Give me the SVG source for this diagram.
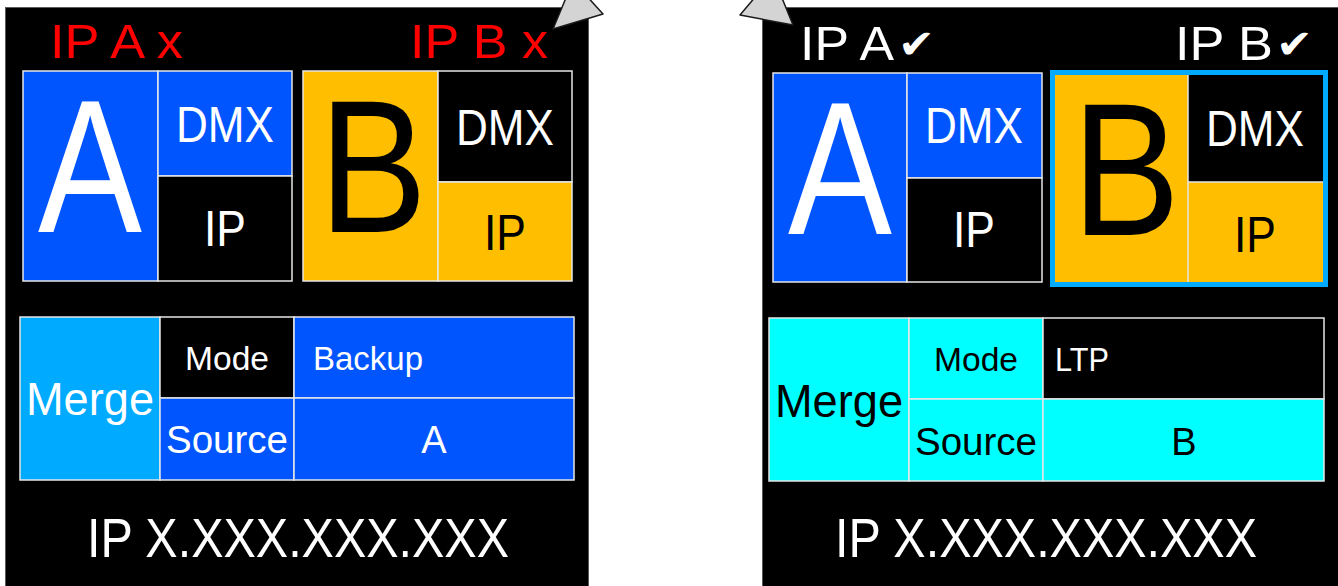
<svg xmlns="http://www.w3.org/2000/svg" width="1338" height="586" viewBox="0 0 1338 586">
  <style>
    text { font-family: "Liberation Sans", Arial, Helvetica, sans-serif; }
    .panel { fill: #000; stroke: #5a5a5a; stroke-width: 1; }
    .cell { stroke: #e6e6e6; stroke-width: 1.5; }
    .blue { fill: #0055ff; }
    .amber { fill: #ffbf00; }
    .sky { fill: #00aaff; }
    .cyan { fill: #00ffff; }
    .dark { fill: #000; }
    .w { fill: #fff; }
    .k { fill: #000; }
    .red { fill: #ff0000; }
    .mid { text-anchor: middle; }
    .head { font-size: 48px; }
    .big { font-size: 190px; }
    .lbl { font-size: 50px; }
    .sm { font-size: 34px; }
    .md { font-size: 38px; }
    .mg { font-size: 46px; }
    .ip { font-size: 56px; }
    .tick { font-family: "DejaVu Sans", sans-serif; font-size: 40px; fill: #fff; }
    .arrowhead { fill: #d4d4d4; stroke: #1a1a1a; stroke-width: 1.5; stroke-linejoin: round; }
  </style>

  <rect width="1338" height="586" fill="#fff"/>

  <!-- left screen: both inputs lost -->
  <g id="screen-left">
    <rect class="panel" x="5.5" y="7.5" width="583" height="590"/>
    <text class="head red" x="50" y="58" textLength="133" lengthAdjust="spacingAndGlyphs">IP A x</text>
    <text class="head red" x="410" y="58" textLength="138" lengthAdjust="spacingAndGlyphs">IP B x</text>
  </g>

  <g id="left-input-a">
    <rect class="cell blue" x="23" y="71" width="135" height="210"/>
    <rect class="cell blue" x="158" y="71" width="134" height="105"/>
    <rect class="cell dark" x="158" y="176" width="134" height="105"/>
    <text class="big w mid" x="90" y="232" textLength="104" lengthAdjust="spacingAndGlyphs">A</text>
    <text class="lbl w mid" x="225" y="142" textLength="98" lengthAdjust="spacingAndGlyphs">DMX</text>
    <text class="lbl w mid" x="225" y="246" textLength="42" lengthAdjust="spacingAndGlyphs">IP</text>
  </g>

  <g id="left-input-b">
    <rect class="cell amber" x="303" y="71" width="135" height="210"/>
    <rect class="cell dark" x="438" y="71" width="134" height="111"/>
    <rect class="cell amber" x="438" y="182" width="134" height="99"/>
    <text class="big k mid" x="373" y="232" textLength="108" lengthAdjust="spacingAndGlyphs">B</text>
    <text class="lbl w mid" x="505" y="145" textLength="98" lengthAdjust="spacingAndGlyphs">DMX</text>
    <text class="lbl k mid" x="505" y="250" textLength="42" lengthAdjust="spacingAndGlyphs">IP</text>
  </g>

  <g id="left-merge">
    <rect class="cell sky" x="20" y="317" width="140" height="163"/>
    <rect class="cell dark" x="160" y="317" width="134" height="81"/>
    <rect class="cell blue" x="294" y="317" width="280" height="81"/>
    <rect class="cell blue" x="160" y="398" width="134" height="82"/>
    <rect class="cell blue" x="294" y="398" width="280" height="82"/>
    <text class="mg w mid" x="90" y="415" textLength="128" lengthAdjust="spacingAndGlyphs">Merge</text>
    <text class="sm w mid" x="227" y="370" textLength="84" lengthAdjust="spacingAndGlyphs">Mode</text>
    <text class="sm w" x="313" y="370" textLength="110" lengthAdjust="spacingAndGlyphs">Backup</text>
    <text class="md w mid" x="227" y="453" textLength="122" lengthAdjust="spacingAndGlyphs">Source</text>
    <text class="md w mid" x="434" y="453">A</text>
  </g>

  <g id="left-address">
    <text class="ip w mid" x="298" y="557" textLength="422" lengthAdjust="spacingAndGlyphs">IP X.XXX.XXX.XXX</text>
  </g>

  <!-- right screen: both inputs present, B selected -->
  <g id="screen-right">
    <rect class="panel" x="762.5" y="7.5" width="590" height="590"/>
    <text class="head w" x="800" y="60" textLength="94" lengthAdjust="spacingAndGlyphs">IP A</text>
    <text class="tick" x="898" y="58" textLength="37" lengthAdjust="spacingAndGlyphs">✔</text>
    <text class="head w" x="1175" y="60" textLength="98" lengthAdjust="spacingAndGlyphs">IP B</text>
    <text class="tick" x="1276" y="58" textLength="37" lengthAdjust="spacingAndGlyphs">✔</text>
  </g>

  <g id="right-input-a">
    <rect class="cell blue" x="773" y="73" width="134" height="209"/>
    <rect class="cell blue" x="907" y="73" width="135" height="105"/>
    <rect class="cell dark" x="907" y="178" width="135" height="104"/>
    <text class="big w mid" x="840" y="234" textLength="104" lengthAdjust="spacingAndGlyphs">A</text>
    <text class="lbl w mid" x="974" y="143" textLength="98" lengthAdjust="spacingAndGlyphs">DMX</text>
    <text class="lbl w mid" x="974" y="247" textLength="42" lengthAdjust="spacingAndGlyphs">IP</text>
  </g>

  <g id="right-input-b">
    <rect x="1052.5" y="72.5" width="273" height="212" fill="none" stroke="#00aaff" stroke-width="5"/>
    <rect class="amber" x="1055" y="75" width="133" height="207"/>
    <rect class="dark" x="1188" y="75" width="135" height="107"/>
    <rect class="amber" x="1188" y="182" width="135" height="100"/>
    <line x1="1188" y1="75" x2="1188" y2="282" stroke="#e6e6e6" stroke-width="1.5"/>
    <line x1="1188" y1="182" x2="1323" y2="182" stroke="#e6e6e6" stroke-width="1.5"/>
    <text class="big k mid" x="1126" y="235" textLength="108" lengthAdjust="spacingAndGlyphs">B</text>
    <text class="lbl w mid" x="1255" y="146" textLength="98" lengthAdjust="spacingAndGlyphs">DMX</text>
    <text class="lbl k mid" x="1255" y="252" textLength="42" lengthAdjust="spacingAndGlyphs">IP</text>
  </g>

  <g id="right-merge">
    <rect class="cell cyan" x="769" y="318" width="140" height="163"/>
    <rect class="cell cyan" x="909" y="318" width="134" height="81"/>
    <rect class="cell dark" x="1043" y="318" width="281" height="81"/>
    <rect class="cell cyan" x="909" y="399" width="134" height="82"/>
    <rect class="cell cyan" x="1043" y="399" width="281" height="82"/>
    <text class="mg k mid" x="839" y="417" textLength="128" lengthAdjust="spacingAndGlyphs">Merge</text>
    <text class="sm k mid" x="976" y="371" textLength="84" lengthAdjust="spacingAndGlyphs">Mode</text>
    <text class="sm w" x="1055" y="371" textLength="54" lengthAdjust="spacingAndGlyphs">LTP</text>
    <text class="md k mid" x="976" y="455" textLength="122" lengthAdjust="spacingAndGlyphs">Source</text>
    <text class="md k mid" x="1184" y="455">B</text>
  </g>

  <g id="right-address">
    <text class="ip w mid" x="1046" y="557" textLength="422" lengthAdjust="spacingAndGlyphs">IP X.XXX.XXX.XXX</text>
  </g>

  <!-- heads of the two arrows leaving the screens -->
  <g id="connectors">
    <polygon class="arrowhead" points="553,29 573,-19 603,14"/>
    <polygon class="arrowhead" points="740,15 773,-24 793,25"/>
  </g>
</svg>
